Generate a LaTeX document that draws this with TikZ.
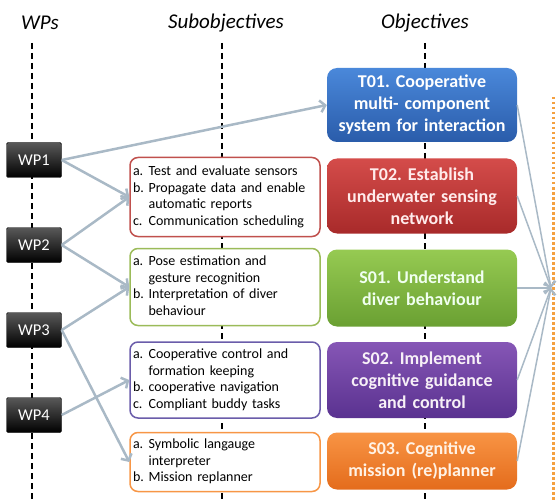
\documentclass[tikz,border=0pt]{standalone}
\usepackage{fontspec}
\setmainfont{Carlito}
\usetikzlibrary{arrows.meta,positioning,calc}
\definecolor{arrowgray}{HTML}{A9B9C6}
\definecolor{subred}{HTML}{C0504D}
\definecolor{subgreen}{HTML}{9BBB59}
\definecolor{subpurple}{HTML}{6A5CAA}
\definecolor{suborange}{HTML}{F79646}
\definecolor{dotorange}{HTML}{F4A040}
\definecolor{blueTop}{HTML}{4A88DA}
\definecolor{blueBot}{HTML}{2A5CAA}
\definecolor{redTop}{HTML}{D44C4A}
\definecolor{redBot}{HTML}{A82A2A}
\definecolor{greenTop}{HTML}{96CA52}
\definecolor{greenBot}{HTML}{6AA032}
\definecolor{purpleTop}{HTML}{8656B6}
\definecolor{purpleBot}{HTML}{5A3290}
\definecolor{orangeTop}{HTML}{F89444}
\definecolor{orangeBot}{HTML}{E46C1C}
\frenchspacing

\begin{document}
\begin{tikzpicture}[x=1pt, y=-1pt,
    header/.style={font=\fontsize{21}{24}\selectfont\itshape},
    wp/.style={draw=black, rounded corners=1.5pt, top color=black!65, bottom color=black, text=white, minimum width=55pt, minimum height=35pt, font=\fontsize{16.5}{18}\selectfont},
    subobj/.style={draw, line width=1.5pt, rounded corners=8pt, fill=white, text width=184pt, inner xsep=3pt, inner ysep=3pt, align=left, font=\fontsize{14}{16.5}\selectfont},
    objective/.style={rounded corners=10pt, minimum width=190pt, text width=184pt, inner xsep=3pt, align=center, font=\fontsize{18}{22}\selectfont\bfseries},
    arr/.style={-{Straight Barb[length=5pt,width=12pt]}, line width=2.5pt, arrowgray},
    guide/.style={dash pattern=on 6pt off 4pt, line width=1.2pt}
]
\useasboundingbox (0,0) rectangle (557,500);

% column headers and guide lines
\node[header] (hdrWP) at (40,23) {WPs};
\node[header] (hdrSub) at (226,23) {Subobjectives};
\node[header] (hdrObj) at (425,23) {Objectives};
\coordinate (endWP) at (32,500);
\coordinate (endSub) at (222,500);
\coordinate (endObj) at (425,500);
\draw[guide] (32,43) -- (endWP);
\draw[guide] (222,43) -- (endSub);
\draw[guide] (425,43) -- (endObj);
\draw[dotorange, line width=3pt, dash pattern=on 2.5pt off 2.5pt] (553,97) -- (553,500);

% work packages
\node[wp] (wp1) at (34,160) {WP1};
\node[wp] (wp2) at (34,245) {WP2};
\node[wp] (wp3) at (34,330) {WP3};
\node[wp] (wp4) at (34,415) {WP4};

% subobjectives
\node[subobj, draw=subred, minimum height=79pt] (subT02) at (225,197) {\begin{tabular}{@{}l@{ }l@{}}
a. & Test and evaluate sensors\\
b. & Propagate data and enable\\
   & automatic reports\\
c. & Communication scheduling
\end{tabular}};
\node[subobj, draw=subgreen, minimum height=77pt] (subS01) at (225,287) {\begin{tabular}{@{}l@{ }l@{}}
a. & Pose estimation and\\
   & gesture recognition\\
b. & Interpretation of diver\\
   & behaviour
\end{tabular}};
\node[subobj, draw=subpurple, minimum height=76pt] (subS02) at (225,380) {\begin{tabular}{@{}l@{ }l@{}}
a. & Cooperative control and\\
   & formation keeping\\
b. & cooperative navigation\\
c. & Compliant buddy tasks
\end{tabular}};
\node[subobj, draw=suborange, minimum height=59pt] (subS03) at (225,462) {\begin{tabular}{@{}l@{ }l@{}}
a. & Symbolic langauge\\
   & interpreter\\
b. & Mission replanner
\end{tabular}};

% objectives
\node[objective, top color=blueTop, bottom color=blueBot, text=white, minimum height=74pt] (t01) at (422,105) {T01. Cooperative\\multi- component\\system for interaction};
\node[objective, top color=redTop, bottom color=redBot, text=red!8, minimum height=75pt] (t02) at (422,196) {T02. Establish\\underwater sensing\\network};
\node[objective, top color=greenTop, bottom color=greenBot, text=green!6, minimum height=77pt] (s01) at (422,288) {S01. Understand\\diver behaviour};
\node[objective, top color=purpleTop, bottom color=purpleBot, text=violet!6, minimum height=76pt] (s02) at (422,380) {S02. Implement\\cognitive guidance\\and control};
\node[objective, top color=orangeTop, bottom color=orangeBot, text=orange!10, minimum height=57pt] (s03) at (422,461) {S03. Cognitive\\mission (re)planner};

% links WP -> subobjectives / objectives
\draw[arr] (wp1.east) -- (t01.west);
\draw[arr] (wp1.east) -- (subT02.west);
\draw[arr] (wp2.east) -- (subT02.west);
\draw[arr] (wp2.east) -- (subS01.west);
\draw[arr] (wp3.east) -- (subS01.west);
\draw[arr] (wp3.east) -- (subS03.west);
\draw[arr] (wp4.east) -- (subS02.west);

% objectives converge
\coordinate (goal) at (551,288);
\foreach \obj in {t01,t02,s01,s02,s03}
  \draw[arr, line width=1.5pt] (\obj.east) -- (goal);
\end{tikzpicture}
\end{document}
